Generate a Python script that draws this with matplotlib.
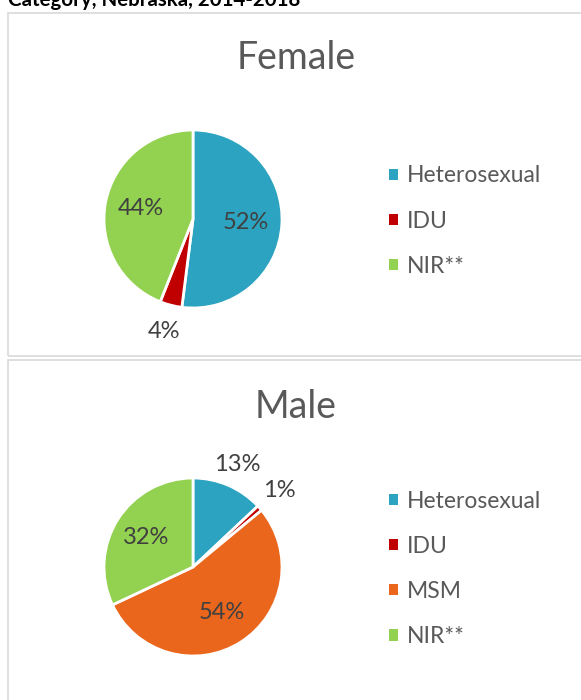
import matplotlib
matplotlib.use("Agg")
import matplotlib.pyplot as plt
import numpy as np
from matplotlib.patches import Patch, Rectangle

plt.rcParams['font.family'] = ['Lato', 'DejaVu Sans']

# data
female_labels = ['Heterosexual', 'IDU', 'NIR**']
female_values = [52, 4, 44]
male_labels = ['Heterosexual', 'IDU', 'MSM', 'NIR**']
male_values = [13, 1, 54, 32]

COL = {'Heterosexual': '#2ca3c0', 'IDU': '#c00000', 'MSM': '#ea661d', 'NIR**': '#93d150'}
W, H = 581, 700

fig = plt.figure(figsize=(W / 100, H / 100), dpi=100)


def fx(px):
    return px / W


def fy(py):
    return 1 - py / H


# chart title, cut off at the top like the original
fig.text(fx(8), fy(6.5), 'Category, Nebraska, 2014-2018', fontsize=14.8,
         fontweight='bold', color='black', va='baseline', ha='left')

# panel borders
for top, bot in [(13, 356), (360, 720)]:
    fig.patches.append(Rectangle((fx(8), fy(bot)), fx(600 - 8), (bot - top) / H,
                                 transform=fig.transFigure, fill=False,
                                 edgecolor='#d9d9d9', lw=1.2))


def panel(title, labels, values, cy, title_y, leg_y, dists):
    r = 89
    half = 130
    ax = fig.add_axes([fx(193 - half), fy(cy + half), 2 * half / W, 2 * half / H])
    wedges, _ = ax.pie(values, colors=[COL[l] for l in labels], startangle=90,
                       counterclock=False, radius=1,
                       wedgeprops=dict(edgecolor='white', linewidth=2))
    lim = half / r
    ax.set_xlim(-lim, lim)
    ax.set_ylim(-lim, lim)
    ax.set_aspect('equal')
    ax.axis('off')
    for w, v, d in zip(wedges, values, dists):
        ang = np.deg2rad((w.theta1 + w.theta2) / 2)
        ax.text(d * np.cos(ang), d * np.sin(ang), f'{v}%', ha='center', va='center',
                fontsize=17, color='#404040')
    fig.text(fx(296), fy(title_y), title, ha='center', va='baseline',
             fontsize=27, color='#595959')
    handles = [Patch(facecolor=COL[l], edgecolor='none') for l in labels]
    fig.legend(handles, labels, loc='center left', bbox_to_anchor=(fx(389), fy(leg_y)),
               frameon=False, fontsize=16.5, labelcolor='#595959', handlelength=0.38,
               handleheight=0.38, handletextpad=0.4, labelspacing=1.05,
               borderpad=0, borderaxespad=0)


panel('Female', female_labels, female_values, 219, 69, 221, [0.6, 1.3, 0.6])
panel('Male', male_labels, male_values, 567, 418, 569, [1.26, 1.3, 0.6, 0.62])

fig.savefig('out.png', dpi=100)
